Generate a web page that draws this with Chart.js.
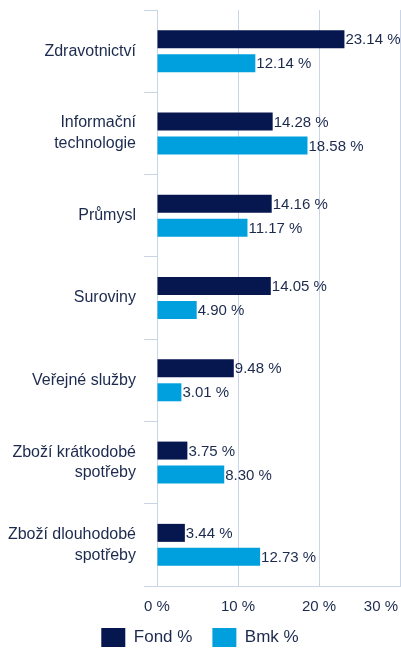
<!DOCTYPE html>
<html>
<head>
<meta charset="utf-8">
<script src="https://cdn.jsdelivr.net/npm/chart.js@4"></script>
<style>
  html, body { margin: 0; padding: 0; background: #fff; }
  #wrap { width: 401px; height: 648px; position: relative; }
</style>
</head>
<body>
<div id="wrap"><canvas id="graf"></canvas></div>
<script>
// data
const kategorie = [
    ['Zdravotnictví'],
    ['Informační', 'technologie'],
    ['Průmysl'],
    ['Suroviny'],
    ['Veřejné služby'],
    ['Zboží krátkodobé', 'spotřeby'],
    ['Zboží dlouhodobé', 'spotřeby']
];
const fond = [23.14, 14.28, 14.16, 14.05, 9.48, 3.75, 3.44];
const bmk = [12.14, 18.58, 11.17, 4.90, 3.01, 8.30, 12.73];
const xTicky = [0, 10, 20, 30];
const nazvy = ['Fond %', 'Bmk %'];

const NAVY = '#1c2a4e';
const GRID = '#c9d4e6';
const FONT = "'Liberation Sans', Arial, sans-serif";

const fmt = v => v.toFixed(2) + ' %';

// popisky za koncem sloupcu
const popiskyPlugin = {
    id: 'popisky',
    afterLayout(chart) {
        // osa x je zkracena kvuli legende, at se popisky neorizou
        const sc = chart.scales.x;
        sc.bottom = sc.top + 40;
    },
    afterDatasetsDraw(chart) {
        const ctx = chart.ctx;
        ctx.save();
        ctx.font = '15px ' + FONT;
        ctx.fillStyle = NAVY;
        ctx.textAlign = 'left';
        ctx.textBaseline = 'middle';
        chart.data.datasets.forEach((ds, i) => {
            chart.getDatasetMeta(i).data.forEach((bar, j) => {
                ctx.fillText(fmt(ds.data[j]), bar.x + 1, bar.y + 1);
            });
        });
        ctx.restore();
    },
    afterDraw(chart) {
        // posledni tick (30 %) se vejde jen zarovnany doprava
        const sc = chart.scales.x;
        const last = sc.ticks.length - 1;
        const items = sc.getLabelItems ? sc.getLabelItems() : null;
        let y = sc.top + 12 + 9;
        if (items && items[last]) y = items[last].options.translation[1] + items[last].textOffset;
        const ctx = chart.ctx;
        ctx.save();
        ctx.font = '15px ' + FONT;
        ctx.fillStyle = NAVY;
        ctx.textAlign = 'right';
        ctx.textBaseline = 'middle';
        ctx.fillText(sc.ticks[last].value + ' %', chart.chartArea.right - 2, y);
        ctx.restore();
    }
};

new Chart(document.getElementById('graf'), {
    type: 'bar',
    data: {
        labels: kategorie,
        datasets: [
            {
                label: nazvy[0],
                data: fond,
                backgroundColor: '#06164f',
                categoryPercentage: 0.583,
                barPercentage: 0.75
            },
            {
                label: nazvy[1],
                data: bmk,
                backgroundColor: '#00a0df',
                categoryPercentage: 0.583,
                barPercentage: 0.75
            }
        ]
    },
    options: {
        indexAxis: 'y',
        responsive: true,
        maintainAspectRatio: false,
        animation: false,
        layout: { padding: { top: 10, right: 1, left: 0, bottom: 0 } },
        scales: {
            x: {
                min: 0,
                max: 30,
                afterBuildTicks: s => { s.ticks = xTicky.map(v => ({ value: v })); },
                afterFit: s => { s.paddingLeft = 0; s.paddingRight = 0; s.height = 22; },
                grid: { color: GRID, drawTicks: false, lineWidth: 1 },
                border: { display: true, color: GRID },
                ticks: {
                    padding: 12,
                    font: { family: FONT, size: 15 },
                    color: c => c.index === xTicky.length - 1 ? 'rgba(0,0,0,0)' : NAVY,
                    callback: v => v + ' %'
                }
            },
            y: {
                afterFit: s => { s.width = 157; s.paddingTop = 0; s.paddingBottom = 0; },
                grid: { drawOnChartArea: false, drawTicks: true, tickLength: 13, color: GRID, offset: true },
                border: { display: true, color: GRID },
                ticks: {
                    padding: 8,
                    font: { family: FONT, size: 16, lineHeight: 1.3 },
                    color: NAVY
                }
            }
        },
        plugins: {
            legend: {
                position: 'bottom',
                maxHeight: 40,
                labels: {
                    boxWidth: 24,
                    boxHeight: 19,
                    padding: 20,
                    color: NAVY,
                    font: { family: FONT, size: 17 }
                }
            },
            tooltip: { enabled: false }
        }
    },
    plugins: [popiskyPlugin]
});
</script>
</body>
</html>
